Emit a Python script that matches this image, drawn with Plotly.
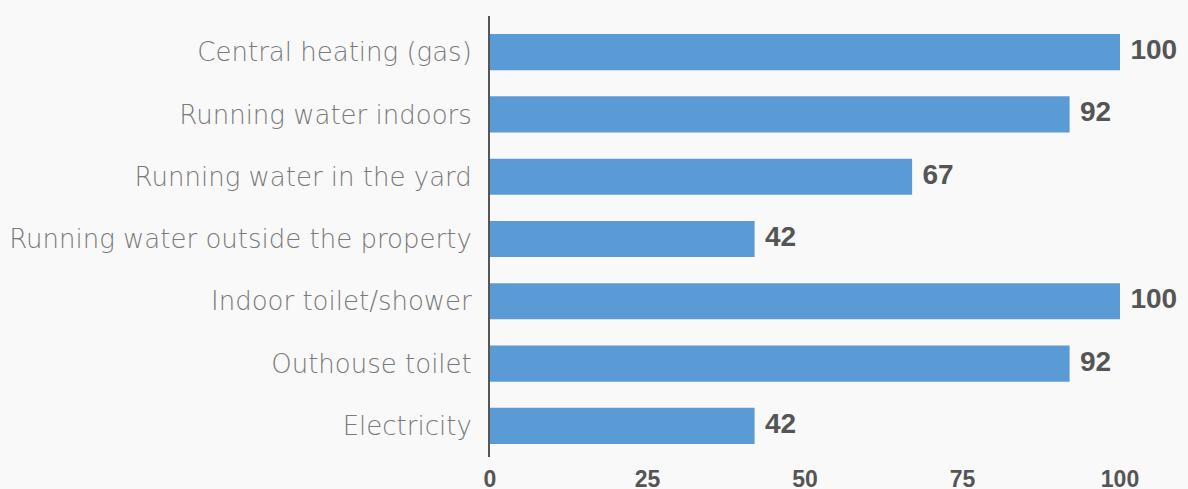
import plotly.graph_objects as go

categories = [
    "Central heating (gas)",
    "Running water indoors",
    "Running water in the yard",
    "Running water outside the property",
    "Indoor toilet/shower",
    "Outhouse toilet",
    "Electricity",
]
values = [100, 92, 67, 42, 100, 92, 42]
x_ticks = [0, 25, 50, 75, 100]

BG = "#f9f9f9"
BAR = "#5b9bd5"
DARK = "#555555"
LABEL = "#7a7a7a"

fig = go.Figure()
fig.add_trace(go.Bar(
    x=values, y=categories, orientation="h",
    marker=dict(color=BAR, line=dict(width=0)),
    hoverinfo="skip",
))
fig.add_trace(go.Scatter(
    x=values, y=categories, mode="markers+text",
    text=[str(v) for v in values], textposition="middle right",
    marker=dict(size=15, opacity=0),
    textfont=dict(family="Liberation Sans", size=28, color=DARK, weight="bold"),
    cliponaxis=False, hoverinfo="skip", showlegend=False,
))

fig.update_layout(
    width=1188, height=489,
    margin=dict(l=490, r=68, t=16, b=32, pad=0),
    paper_bgcolor=BG, plot_bgcolor=BG,
    showlegend=False,
    bargap=0.42,
    xaxis=dict(
        range=[0, 100], tickvals=x_ticks, showgrid=False, zeroline=False,
        showline=False, ticks="", ticklabelstandoff=6, automargin=False,
        tickfont=dict(family="Liberation Sans", size=23, color=DARK, weight="bold"),
    ),
    yaxis=dict(
        categoryorder="array", categoryarray=categories,
        range=[6.5, -0.58], showgrid=False, zeroline=False,
        showline=True, linecolor="#555555", linewidth=2,
        ticks="", ticklabelstandoff=11, automargin=False,
        tickfont=dict(family="DejaVu Sans", size=26, color=LABEL, weight=200),
    ),
)

fig.write_html(
    "out.html",
    config={"displayModeBar": False},
    post_script="document.body.style.margin='0';document.body.style.overflow='hidden';",
)
